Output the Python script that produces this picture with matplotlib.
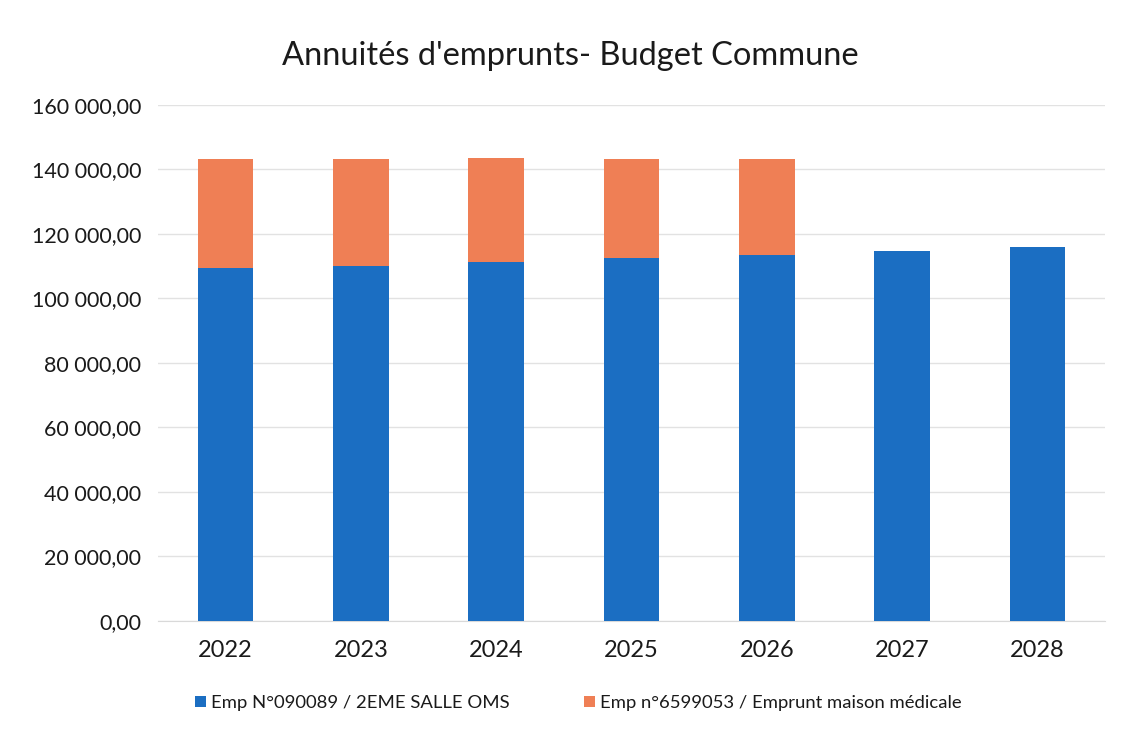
import matplotlib.pyplot as plt
import numpy as np

plt.rcParams['font.family'] = ['Lato', 'DejaVu Sans']

years = ['2022', '2023', '2024', '2025', '2026', '2027', '2028']
salle_oms = [109500, 110200, 111400, 112550, 113500, 114800, 116050]
maison_medicale = [33800, 33100, 32200, 30750, 29800, 0, 0]

label_oms = "Emp N°090089 / 2EME SALLE OMS"
label_mm = "Emp n°6599053 / Emprunt maison médicale"

def fmt(v, pos):
    s = f"{v:,.2f}".replace(',', ' ').replace('.', ',')
    return s

fig = plt.figure(figsize=(11.23, 7.33), dpi=100)
ax = fig.add_axes([0.1407, 0.1528, 0.8433, 0.7040])

x = np.arange(len(years))
ax.bar(x, salle_oms, width=0.41, color='#1b6ec2', label=label_oms, zorder=3)
ax.bar(x, maison_medicale, width=0.41, bottom=salle_oms, color='#ef7f55', label=label_mm, zorder=3)

ax.set_xlim(-0.5, len(years) - 0.5)
ax.set_ylim(0, 160000)
ax.set_yticks(np.arange(0, 160001, 20000))
ax.yaxis.set_major_formatter(plt.FuncFormatter(fmt))
ax.set_xticks(x)
ax.set_xticklabels(years)
ax.tick_params(axis='both', length=0, colors='#1a1a1a')
ax.tick_params(axis='y', labelsize=15.5, pad=12)
ax.tick_params(axis='x', labelsize=17, pad=14)
ax.grid(axis='y', color='#e2e2e2', linewidth=1, zorder=0)
for s in ['top', 'right', 'left']:
    ax.spines[s].set_visible(False)
ax.spines['bottom'].set_color('#d9d9d9')

fig.text(0.508, 0.924, "Annuités d'emprunts- Budget Commune", ha='center', va='center',
         fontsize=23.5, color='#1a1a1a')

leg = fig.legend(loc='center', bbox_to_anchor=(0.515, 0.041), ncol=2, frameon=False,
                 fontsize=13.3, handlelength=0.6, handleheight=0.6, columnspacing=4,
                 handletextpad=0.3)
for t in leg.get_texts():
    t.set_color('#1a1a1a')

fig.savefig('out.png', dpi=100)
